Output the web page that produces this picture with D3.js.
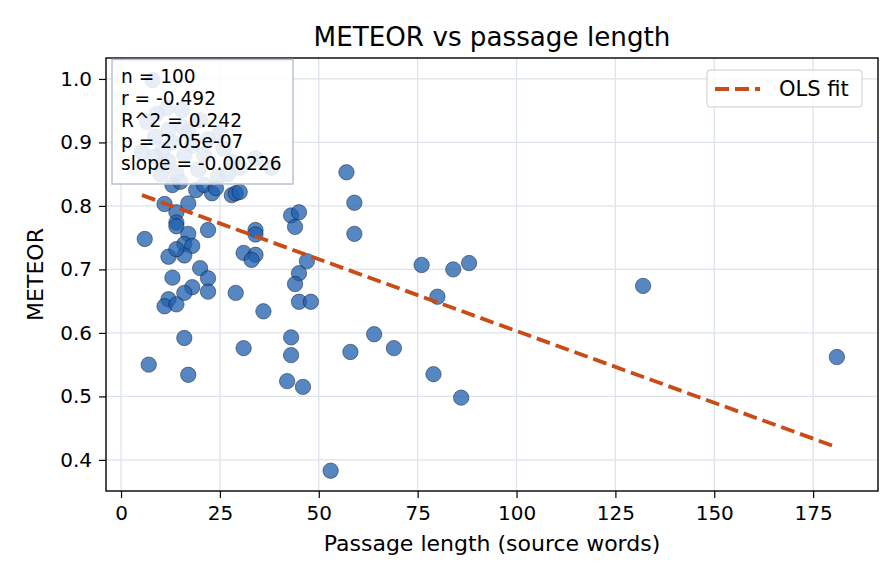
<!DOCTYPE html>
<html><head><meta charset="utf-8">
<script src="https://cdn.jsdelivr.net/npm/d3@7/dist/d3.min.js"></script>
<style>body{margin:0;background:#fff}svg{font-family:"DejaVu Sans",sans-serif}</style>
</head><body>
<svg id="c" width="896" height="584"></svg>
<script>
const passageLength = [6,11,17,14,14,14,17,12,16,18,16,20,13,18,16,12,11,14,22,34,34,31,34,33,22,22,29,36,43,45,44,47,45,44,45,48,57,59,59,76,84,88,80,132,181,43,43,42,46,64,58,69,79,86,53,16,7,17,31,13,15,19,21,23,24,28,29,30,14,
  8,11.6,15.4,6.6,8.6,15.7,17,5.3,10.6,8.6,21,34,10.6,14,24.5,19.5,9,12,13,18,22,26,28,30,12,16,20,25,38,10,27];
const meteor = [0.748,0.803,0.804,0.79,0.774,0.768,0.756,0.72,0.74,0.737,0.722,0.702,0.687,0.672,0.663,0.653,0.642,0.645,0.762,0.762,0.755,0.726,0.723,0.715,0.686,0.665,0.663,0.634,0.785,0.79,0.767,0.713,0.694,0.677,0.649,0.649,0.853,0.805,0.756,0.707,0.70,0.71,0.657,0.674,0.562,0.593,0.565,0.524,0.515,0.598,0.57,0.576,0.535,0.498,0.383,0.592,0.55,0.534,0.576,0.833,0.838,0.825,0.833,0.82,0.828,0.817,0.82,0.822,0.732,
  0.998,0.954,0.951,0.932,0.909,0.924,0.917,0.885,0.888,0.878,0.88,0.875,0.865,0.852,0.846,0.857,0.945,0.92,0.9,0.895,0.905,0.89,0.87,0.86,0.87,0.88,0.935,0.915,0.86,0.85,0.85];
const fitSlope = -0.00226, fitIntercept = 0.8290;
const xTicks = [0,25,50,75,100,125,150,175];
const yTicks = [0.4,0.5,0.6,0.7,0.8,0.9,1.0];
const statLines = ["n = 100","r = -0.492","R^2 = 0.242","p = 2.05e-07","slope = -0.00226"];

const svg = d3.select("#c");
const L=106,R=878,T=58,B=491;
const x = d3.scaleLinear().domain([-3.8,191.4]).range([L,R]);
const y = d3.scaleLinear().domain([0.351,1.033]).range([B,T]);

// grid
const g = svg.append("g");
g.selectAll(".gx").data(xTicks).enter().append("line")
  .attr("x1",d=>x(d)).attr("x2",d=>x(d)).attr("y1",T).attr("y2",B)
  .attr("stroke","#dce3ed").attr("stroke-width",1.3);
g.selectAll(".gy").data(yTicks).enter().append("line")
  .attr("y1",d=>y(d)).attr("y2",d=>y(d)).attr("x1",L).attr("x2",R)
  .attr("stroke","#dce3ed").attr("stroke-width",1.3);

// points
const pts = passageLength.map((v,i)=>({x:v,y:meteor[i]}));
svg.append("g").selectAll("circle").data(pts).enter().append("circle")
  .attr("cx",d=>x(d.x)).attr("cy",d=>y(d.y)).attr("r",7.7)
  .attr("fill","#1f5fae").attr("fill-opacity",0.75)
  .attr("stroke","#0d1a2a").attr("stroke-opacity",0.8).attr("stroke-width",0.6);

// fit line
const xmin=d3.min(passageLength), xmax=d3.max(passageLength);
svg.append("line")
  .attr("x1",x(xmin)).attr("y1",y(fitIntercept+fitSlope*xmin))
  .attr("x2",x(xmax)).attr("y2",y(fitIntercept+fitSlope*xmax))
  .attr("stroke","#c94b16").attr("stroke-width",3.8).attr("stroke-dasharray","14,6");

// axes
const xa = svg.append("g").attr("transform",`translate(0,${B})`)
  .call(d3.axisBottom(x).tickValues(xTicks).tickSize(7).tickPadding(8).tickFormat(d3.format("d")));
const ya = svg.append("g").attr("transform",`translate(${L},0)`)
  .call(d3.axisLeft(y).tickValues(yTicks).tickSize(7).tickPadding(7).tickFormat(d3.format(".1f")));
[xa,ya].forEach(a=>{a.select(".domain").remove();a.selectAll("line").attr("stroke","#000").attr("stroke-width",1.2);
  a.selectAll("text").attr("font-size",20).attr("fill","#000").attr("font-family","DejaVu Sans");});
svg.append("rect").attr("x",L).attr("y",T).attr("width",R-L).attr("height",B-T)
  .attr("fill","none").attr("stroke","#000").attr("stroke-width",1.4);

// labels
svg.append("text").attr("x",(L+R)/2).attr("y",46).attr("text-anchor","middle").attr("font-size",26.2).text("METEOR vs passage length");
svg.append("text").attr("x",(L+R)/2).attr("y",551).attr("text-anchor","middle").attr("font-size",22).text("Passage length (source words)");
svg.append("text").attr("transform",`translate(43,${(T+B)/2}) rotate(-90)`).attr("text-anchor","middle").attr("font-size",22).text("METEOR");

// stats box
svg.append("rect").attr("x",112).attr("y",59.5).attr("width",181).attr("height",124.5)
  .attr("fill","#fff").attr("fill-opacity",0.86).attr("stroke","#b6c2d2").attr("stroke-width",1.5);
svg.append("g").selectAll("text").data(statLines).enter().append("text")
  .attr("x",121).attr("y",(d,i)=>83+i*21.75).attr("font-size",18.6).attr("fill","#000").text(d=>d);

// legend
svg.append("rect").attr("x",707).attr("y",70).attr("width",155).attr("height",37).attr("rx",3)
  .attr("fill","#fff").attr("fill-opacity",0.8).attr("stroke","#cccccc");
svg.append("line").attr("x1",715).attr("x2",760).attr("y1",89).attr("y2",89)
  .attr("stroke","#c94b16").attr("stroke-width",3.8).attr("stroke-dasharray","14,6");
svg.append("text").attr("x",779).attr("y",96).attr("font-size",21).text("OLS fit");
</script>
</body></html>
